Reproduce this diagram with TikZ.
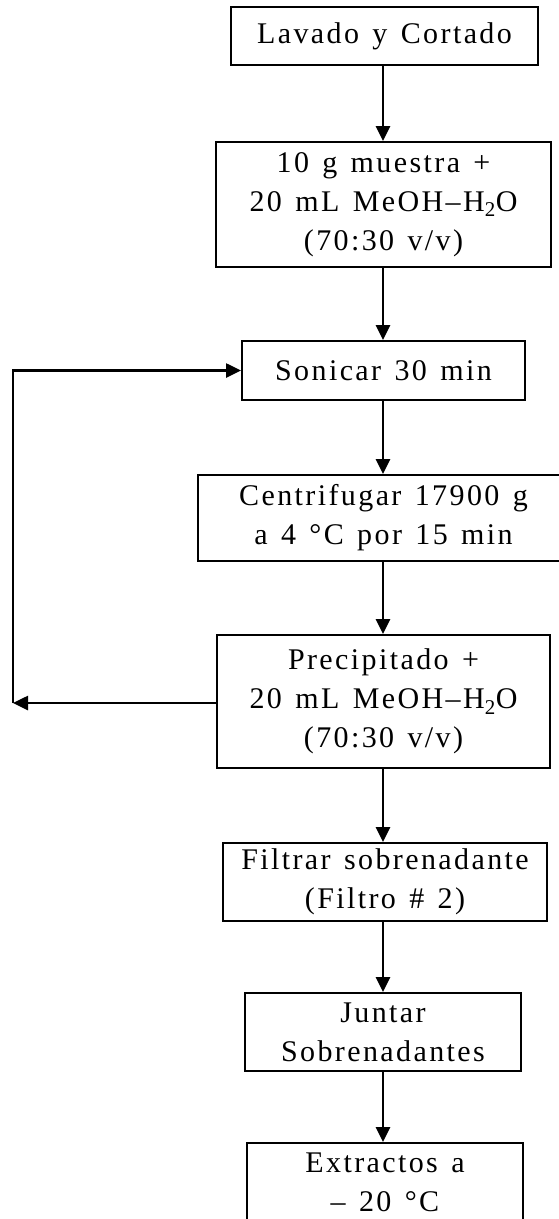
\documentclass[tikz,border=0pt]{standalone}
\usepackage{fontspec}
\setmainfont{Liberation Serif}[LetterSpace=8,WordSpace=1.35]
\usetikzlibrary{arrows.meta}

\tikzset{
  box/.style={draw, line width=2pt, align=center, inner sep=0pt,
    font=\fontsize{30}{39}\selectfont},
  arr/.style={line width=2.6pt, -{Triangle[length=15pt,width=14pt]}}
}

\begin{document}
\begin{tikzpicture}[x=1pt,y=-1pt]
%\draw[step=50,gray,very thin] (0,0) grid (559,1219); %grid lines
\useasboundingbox (0,0) rectangle (559,1219);
\clip (0,0) rectangle (559,1219);

\node[box, minimum width=307, minimum height=58] (lav) at (384.5, 36) {Lavado y Cortado};

\node[box, minimum width=335, minimum height=125] (mue) at (383.5, 204.5)
  {10 g muestra +\\20 mL MeOH–H\textsubscript{2}O\\(70:30 v/v)};

\node[box, minimum width=283, minimum height=59] (son) at (383.5, 370.5) {Sonicar 30 min};

\node[box, minimum width=371, minimum height=86] (cen) at (383.5, 518)
  {Centrifugar 17900 g\\a 4 °C por 15 min};

\node[box, minimum width=333, minimum height=133] (pre) at (383.5, 701.5)
  {Precipitado +\\20 mL MeOH–H\textsubscript{2}O\\(70:30 v/v)};

\node[box, minimum width=324, minimum height=78] (fil) at (385, 882)
  {Filtrar sobrenadante\\(Filtro \# 2)};

\node[box, minimum width=276, minimum height=78] (jun) at (383, 1032)
  {Juntar\\Sobrenadantes};

\node[box, minimum width=276, minimum height=78] (ext) at (385, 1182)
  {Extractos a\\– 20 °C};

\coordinate (vuelta) at (13, 703);

\draw[arr] (lav.south -| 383,0) -- (383,0 |- mue.north);
\draw[arr] (mue.south -| 383,0) -- (383,0 |- son.north);
\draw[arr] (son.south -| 383,0) -- (383,0 |- cen.north);
\draw[arr] (cen.south -| 383,0) -- (383,0 |- pre.north);
\draw[arr] (pre.south -| 383,0) -- (383,0 |- fil.north);
\draw[arr] (fil.south -| 383,0) -- (383,0 |- jun.north);
\draw[arr] (jun.south -| 383,0) -- (383,0 |- ext.north);

\draw[arr] (pre.west |- vuelta) -- (vuelta);
\draw[arr] (vuelta) |- (son.west);
\end{tikzpicture}
\end{document}
